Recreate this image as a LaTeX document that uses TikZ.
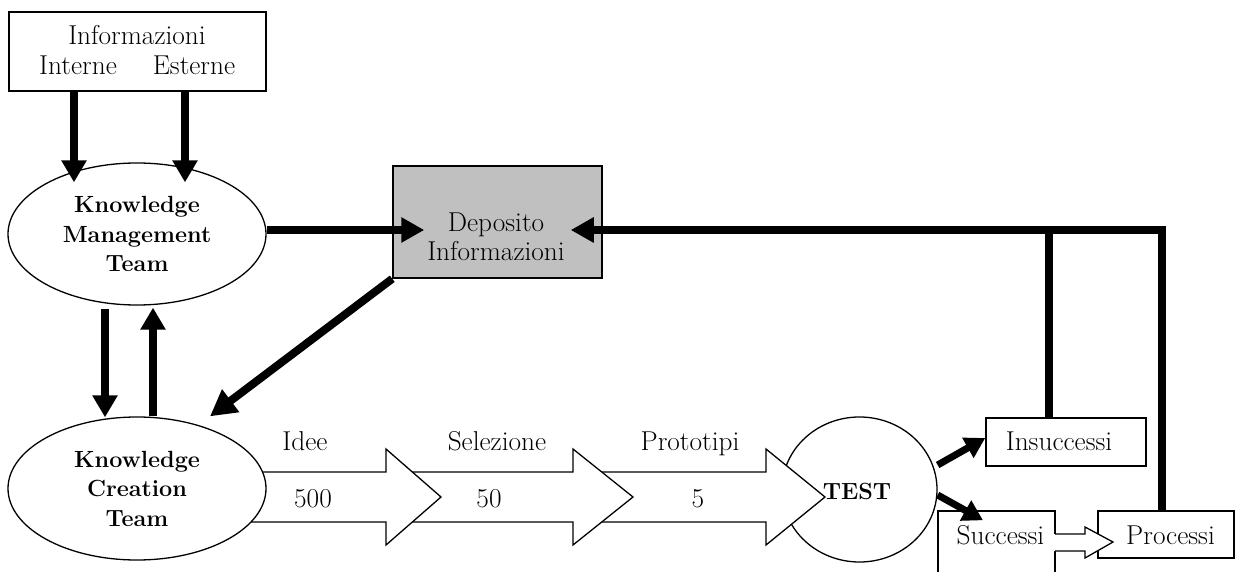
\documentclass[tikz,border=0pt]{standalone}
\usepackage{fix-cm}
\usetikzlibrary{arrows.meta,shapes.geometric}
\definecolor{depgray}{RGB}{192,192,192}
\begin{document}
\begin{tikzpicture}[x=1pt,y=-1pt,
  txt/.style={inner sep=0pt, anchor=base, font=\fontsize{27.3}{29.5}\selectfont},
  oval/.style={ellipse, draw, line width=1.3pt, fill=white, inner sep=0pt,
               align=center, font=\fontsize{23.4}{29.5}\selectfont\bfseries},
  box/.style={rectangle, draw, line width=1.5pt, inner sep=0pt},
  flow/.style={line width=8pt, -{Triangle[length=22pt,width=24pt]}},
  feedline/.style={line width=8pt, line join=miter},
  outcome/.style={line width=7pt, -{Triangle[length=20pt,width=22pt]}},
  hollow/.style={draw, fill=white, line width=1.3pt, line join=miter}
]
\useasboundingbox (0,0) rectangle (1237,572);
\clip (0,0) rectangle (1237,572);

% ---- source of information
\node[box, minimum width=257pt, minimum height=79pt] (info) at (137.5,51.5) {};
\node[txt] (infoT) at (137,45) {Informazioni};
\node[txt] (infoI) at (78,75) {Interne};
\node[txt] (infoE) at (194,75) {Esterne};

% ---- knowledge management team
\node[oval, minimum width=258pt, minimum height=142pt] (km) at (137,234)
  {Knowledge\\Management\\Team};

% ---- information repository
\node[box, fill=depgray, minimum width=209pt, minimum height=112pt] (dep) at (497.5,222) {};
\node[txt] (depA) at (496,232) {Deposito};
\node[txt] (depB) at (496,260) {Informazioni};

% ---- test stage and outcomes
\node[oval, minimum width=155pt, minimum height=145pt] (test) at (859.5,489.5) {};
\node[box, minimum width=160pt, minimum height=48pt] (ins) at (1066,442) {};
\node[box, minimum width=117pt, minimum height=80pt] (suc) at (996.5,551) {};
\node[box, minimum width=136pt, minimum height=47pt] (proc) at (1166,534.5) {};

% ---- funnel of block arrows (drawn back to front)
\draw[hollow] (590,472) -- (766,472) -- (766,449) -- (825,497) -- (766,545)
  -- (766,522) -- (590,522) -- cycle;
\draw[hollow] (400,472) -- (573,472) -- (573,449) -- (633,497) -- (573,545)
  -- (573,522) -- (400,522) -- cycle;
\draw[hollow] (250,472) -- (386,472) -- (386,449) -- (441,497) -- (386,545)
  -- (386,522) -- (250,522) -- cycle;

% ---- knowledge creation team
\node[oval, minimum width=258pt, minimum height=143pt] (kc) at (137,488.5)
  {Knowledge\\Creation\\Team};

% ---- labels of the funnel
\node[txt] (lIdee) at (305,450) {Idee};
\node[txt] (lSel) at (497,450) {Selezione};
\node[txt] (lProt) at (690,450) {Prototipi};
\node[txt] (n500) at (313,507) {500};
\node[txt] (n50) at (489,507) {50};
\node[txt] (n5) at (698,507) {5};
\node[txt, font=\fontsize{23.4}{29.5}\selectfont\bfseries] (testT) at (857,499) {TEST};

% ---- outcome labels
\node[txt] (insT) at (1059,450) {Insuccessi};
\node[txt] (sucT) at (1000.5,544) {Successi};
\node[txt] (procT) at (1170.5,544) {Processi};

% ---- small block arrow from successes to processes
\fill[white] (1053,534) -- (1085,534) -- (1085,527) -- (1113,542) -- (1085,558)
  -- (1085,551) -- (1053,551) -- cycle;
\draw[line width=1.3pt, line join=miter] (1055,534) -- (1085,534) -- (1085,527)
  -- (1113,542) -- (1085,558) -- (1085,551) -- (1055,551);

% ---- thick connectors
\draw[flow] ([xshift=-63.5pt]info.south) -- ([xshift=-63pt,yshift=-20pt]km.north);
\draw[flow] ([xshift=47.5pt]info.south) -- ([xshift=48pt,yshift=-20pt]km.north);
\draw[flow] ([xshift=-32pt,yshift=-3pt]km.south) -- ([xshift=-32pt,yshift=-1pt]kc.north);
\draw[flow] ([xshift=16pt]kc.north) -- ([xshift=16pt,yshift=-2pt]km.south);
\draw[flow, -{Triangle[length=23pt,width=24pt]}] ([yshift=4pt]km.east)
  -- ([xshift=32pt,yshift=-8pt]dep.west);
\draw[flow, -{Triangle[length=26pt,width=27pt]}] (dep.south west) -- ([xshift=73pt]kc.north);

% feedback from outcomes to the repository
\coordinate (feed) at (1162,230);
\draw[feedline, -{Triangle[length=23pt,width=24pt]}] ([xshift=-4pt]proc.north) -- (feed)
  -- ([xshift=-32pt,yshift=-8pt]dep.east);
\draw[feedline] ([xshift=-17pt]ins.north) -- ([xshift=-17pt]ins.north |- feed);

% test outcomes
\draw[outcome] ([yshift=24.5pt]test.east) -- ([yshift=4pt]ins.west);
\draw[outcome] ([yshift=-5.5pt]test.east) -- ([xshift=-13.5pt,yshift=-10pt]suc.north);
\end{tikzpicture}
\end{document}
